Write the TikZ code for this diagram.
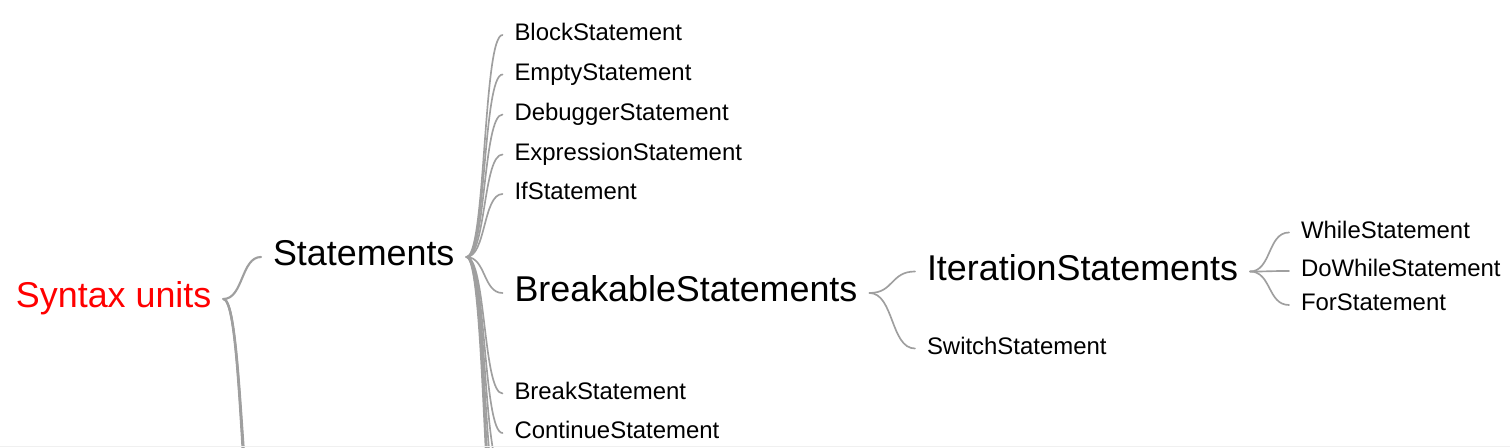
\documentclass[tikz,border=0pt]{standalone}
\usepackage{fontspec}
\setmainfont{Liberation Sans}
\begin{document}
\begin{tikzpicture}[x=0.75pt, y=-0.75pt]
        % Define block styles
        \tikzstyle{bigLabel} = [anchor=west, inner xsep=8.8pt, inner ysep=0pt, font=\fontsize{26.9}{32}\selectfont, text height=20.1pt, text depth=6.7pt]
        \tikzstyle{smallLabel} = [anchor=west, inner xsep=8.8pt, inner ysep=0pt, font=\fontsize{17.95}{21}\selectfont, text height=13.4pt, text depth=4.46pt]
        \tikzstyle{link} = [draw=gray!75, line width=1.25pt, line cap=round]
        \tikzstyle{rootLink} = [draw=gray!75, line width=1.6pt, line cap=round]

        \useasboundingbox (0,0) rectangle (1510,448);
        \clip (0,0) rectangle (1510,448);

        % Nodes
        \node[bigLabel, text=red] (syntax) at (4,299) {Syntax units};
        \node[bigLabel] (statements) at (261,257) {Statements};
        \node[smallLabel] (block) at (502.5,35) {BlockStatement};
        \node[smallLabel] (empty) at (502.5,74.5) {EmptyStatement};
        \node[smallLabel] (debugger) at (502.5,114.5) {DebuggerStatement};
        \node[smallLabel] (expression) at (502.5,154.5) {ExpressionStatement};
        \node[smallLabel] (if) at (502.5,194) {IfStatement};
        \node[bigLabel] (breakable) at (502.5,293) {BreakableStatements};
        \node[smallLabel] (break) at (502.5,393.5) {BreakStatement};
        \node[smallLabel] (continue) at (502.5,433) {ContinueStatement};
        \node[bigLabel] (iteration) at (915,271.5) {IterationStatements};
        \node[smallLabel] (switch) at (915,348.5) {SwitchStatement};
        \node[smallLabel] (while) at (1289,232.5) {WhileStatement};
        \node[smallLabel] (dowhile) at (1289,271) {DoWhileStatement};
        \node[smallLabel] (for) at (1289,305) {ForStatement};

        % Ends of links that run below the picture
        \coordinate (r1) at (261,555);
        \coordinate (r2) at (261,570);
        \coordinate (r3) at (261,585);
        \coordinate (s1) at (502.5,473);
        \coordinate (s2) at (502.5,513);
        \coordinate (s3) at (502.5,553);
        \coordinate (s4) at (502.5,593);

        % Links
        \draw[rootLink] (syntax.east) .. controls +(20,0) and +(-20,0) .. (statements.west);
        \foreach \t in {r1,r2,r3}
            \draw[rootLink] (syntax.east) .. controls +(20,0) and +(-20,0) .. (\t);
        \foreach \t in {block,empty,debugger,expression,if,breakable,break,continue,s1,s2,s3,s4}
            \draw[link] (statements.east) .. controls +(19.5,0) and +(-19.5,0) .. (\t.west);
        \draw[link] (breakable.east) .. controls +(24.5,0) and +(-24.5,0) .. (iteration.west);
        \draw[link] (breakable.east) .. controls +(24.5,0) and +(-24.5,0) .. (switch.west);
        \foreach \t in {while,dowhile,for}
            \draw[link] (iteration.east) .. controls +(21.5,0) and +(-21.5,0) .. (\t.west);

        % Bottom edge of the view
        \draw[gray!12, line width=0.75pt] (0,447) -- (1510,447);

    \end{tikzpicture}
\end{document}
